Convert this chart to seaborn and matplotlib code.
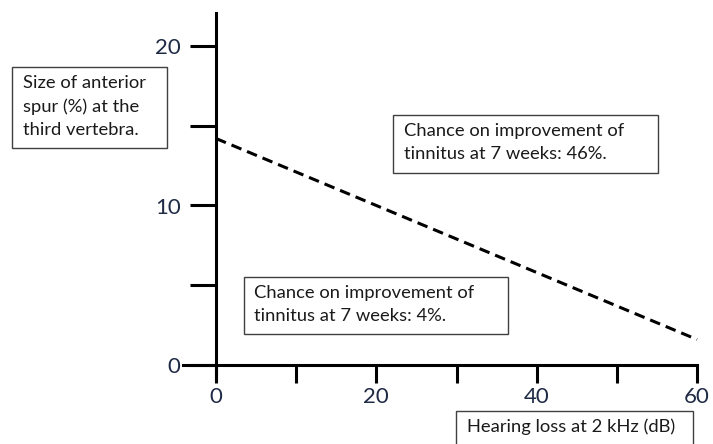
import matplotlib
matplotlib.use("Agg")
import matplotlib.pyplot as plt
from matplotlib.patches import Rectangle
import seaborn as sns
import pandas as pd

# data
hearing_loss = [0, 60]
spur_size = [14.2, 1.6]
x_ticks = [0, 10, 20, 30, 40, 50, 60]
x_tick_labels = ["0", "", "20", "", "40", "", "60"]
y_ticks = [0, 5, 10, 15, 20]
y_tick_labels = ["0", "", "10", "", "20"]

y_label = "Size of anterior\nspur (%) at the\nthird vertebra."
x_label = "Hearing loss at 2 kHz (dB)"
upper_note = "Chance on improvement of\ntinnitus at 7 weeks: 46%."
lower_note = "Chance on improvement of\ntinnitus at 7 weeks: 4%."

sns.set_style("white")
plt.rcParams["font.family"] = ["Lato", "DejaVu Sans"]

W, H = 713, 444
fig = plt.figure(figsize=(W / 100, H / 100), dpi=100)
ax = fig.add_axes([0, 0, 1, 1])

df = pd.DataFrame({"loss": hearing_loss, "spur": spur_size})
sns.lineplot(data=df, x="loss", y="spur", ax=ax, color="black",
             linewidth=2.2, linestyle=(0, (3.5, 2)))

# axes scaled so that x=0 sits at px 216 and y=0 at px 365
ax.set_xlim(-216 / 8.017, (W - 216) / 8.017)
ax.set_ylim((365 - H) / 15.95, 365 / 15.95)

for side in ["top", "right"]:
    ax.spines[side].set_visible(False)
ax.spines["left"].set_position(("data", 0))
ax.spines["bottom"].set_position(("data", 0))
ax.spines["left"].set_bounds(-0.9, 22.1)
ax.spines["bottom"].set_bounds(-4.1, 60)
for side in ["left", "bottom"]:
    ax.spines[side].set_linewidth(2.2)
    ax.spines[side].set_color("black")

ax.set_xticks(x_ticks)
ax.set_xticklabels(x_tick_labels)
ax.set_yticks(y_ticks)
ax.set_yticklabels(y_tick_labels)
ax.tick_params(axis="y", left=True, direction="out", length=18.5, width=2.2,
               pad=7, labelsize=16, colors="black", labelcolor="#1f2a44")
ax.tick_params(axis="x", bottom=True, direction="out", length=13, width=2.2,
               pad=3, labelsize=16, colors="black", labelcolor="#1f2a44")
ax.set_xlabel("")
ax.set_ylabel("")


def note_box(x0, y0, x1, y1, text, tx, ty):
    # pixel coords from top-left
    fig.add_artist(Rectangle((x0 / W, 1 - y1 / H), (x1 - x0) / W, (y1 - y0) / H,
                             transform=fig.transFigure, fill=True,
                             facecolor="white", edgecolor="#404040",
                             linewidth=1.0))
    fig.text(tx / W, 1 - ty / H, text, ha="left", va="top", fontsize=13.2,
             color="#1a1a1a", linespacing=1.55)


note_box(12, 67, 167, 148, y_label, 23, 75)
note_box(393, 115, 658, 173, upper_note, 404, 123)
note_box(244, 277, 508, 334, lower_note, 254, 285)
note_box(456, 411, 693, 446, x_label, 467, 418)

fig.savefig("out.png", dpi=100)
